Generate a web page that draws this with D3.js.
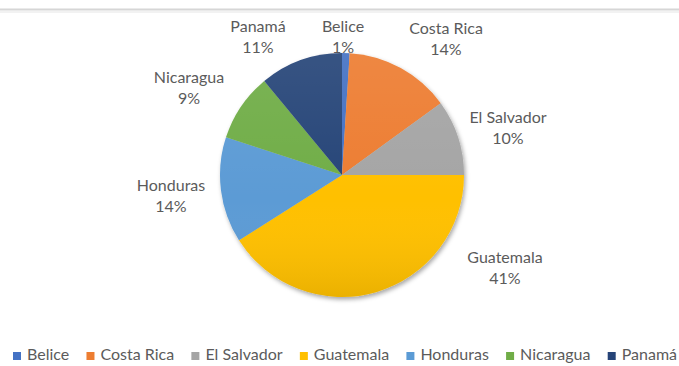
<!DOCTYPE html>
<html>
<head>
<meta charset="utf-8">
<script src="https://cdn.jsdelivr.net/npm/d3@7"></script>
<style>
  html, body { margin: 0; padding: 0; background: #ffffff; }
  svg { display: block; }
  text { font-family: Lato, "Open Sans", "Liberation Sans", sans-serif; fill: #5b5b5b; }
</style>
</head>
<body>
<svg id="chart" width="679" height="366"></svg>
<script>
// Share of the total by country
const countries = ["Belice", "Costa Rica", "El Salvador", "Guatemala", "Honduras", "Nicaragua", "Panamá"];
const shares = [1, 14, 10, 41, 14, 9, 11];
const colors = ["#4472C4", "#ED7D31", "#A5A5A5", "#FFC000", "#5B9BD5", "#70AD47", "#264478"];

// Data label anchors (centre x, first-line baseline y)
const labelAnchors = [
  [343, 32], [446, 34], [508, 123], [505, 263], [171, 191], [189, 83], [258, 32]
];

const W = 679, H = 366;
const cx = 342, cy = 175, R = 122;
const fontSize = 16;

const svg = d3.select("#chart");
const defs = svg.append("defs");

// soft outer shadow beneath the pie
const shadow = defs.append("filter").attr("id", "pieShadow")
  .attr("x", "-20%").attr("y", "-20%").attr("width", "140%").attr("height", "140%");
shadow.append("feDropShadow")
  .attr("dx", 1.5).attr("dy", 2.5).attr("stdDeviation", 2)
  .attr("flood-color", "#000").attr("flood-opacity", 0.35);

// gentle top-to-bottom shading across the pie
const shade = defs.append("linearGradient").attr("id", "pieShade")
  .attr("x1", 0).attr("y1", 0).attr("x2", 0).attr("y2", 1);
shade.append("stop").attr("offset", "0%").attr("stop-color", "#fff").attr("stop-opacity", 0.08);
shade.append("stop").attr("offset", "60%").attr("stop-color", "#fff").attr("stop-opacity", 0);
shade.append("stop").attr("offset", "100%").attr("stop-color", "#000").attr("stop-opacity", 0.08);

// thin frame line along the top
svg.append("line").attr("x1", 0).attr("x2", W).attr("y1", 9.5).attr("y2", 9.5)
  .attr("stroke", "#d6d6d6").attr("stroke-width", 2);
svg.append("line").attr("x1", 0).attr("x2", W).attr("y1", 12).attr("y2", 12)
  .attr("stroke", "#f2f2f2").attr("stroke-width", 2);

const data = countries.map((c, i) => ({ name: c, value: shares[i], color: colors[i] }));

const pie = d3.pie().value(d => d.value).sort(null);
const arc = d3.arc().innerRadius(0).outerRadius(R);
const arcs = pie(data);

const g = svg.append("g").attr("transform", `translate(${cx},${cy})`);
const slices = g.append("g").attr("filter", "url(#pieShadow)");
slices.selectAll("path").data(arcs).join("path")
  .attr("d", arc)
  .attr("fill", d => d.data.color);
g.append("circle").attr("r", R).attr("fill", "url(#pieShade)").style("pointer-events", "none");

// data labels: name and percentage
const labels = svg.append("g").attr("text-anchor", "middle").style("font-size", fontSize + "px");
arcs.forEach((a, i) => {
  const [x, y] = labelAnchors[i];
  const t = labels.append("text").attr("x", x).attr("y", y);
  t.append("tspan").attr("x", x).text(a.data.name);
  t.append("tspan").attr("x", x).attr("dy", 21).text(a.data.value + "%");
});

// legend along the bottom, spread across the width
const legend = svg.append("g").style("font-size", fontSize + "px");
const sq = 8, gapText = 6, legendY = 360, legendLeft = 13, legendRight = 677;
const items = data.map(d => {
  const it = legend.append("g");
  it.append("rect").attr("width", sq).attr("height", sq).attr("y", legendY - 8).attr("fill", d.color);
  const tx = it.append("text").attr("x", sq + gapText).attr("y", legendY).text(d.name);
  return { g: it, w: sq + gapText + tx.node().getComputedTextLength() };
});
const gapItem = (legendRight - legendLeft - d3.sum(items, d => d.w)) / (items.length - 1);
let x0 = legendLeft;
items.forEach(it => {
  it.g.attr("transform", `translate(${x0},0)`);
  x0 += it.w + gapItem;
});
</script>
</body>
</html>
